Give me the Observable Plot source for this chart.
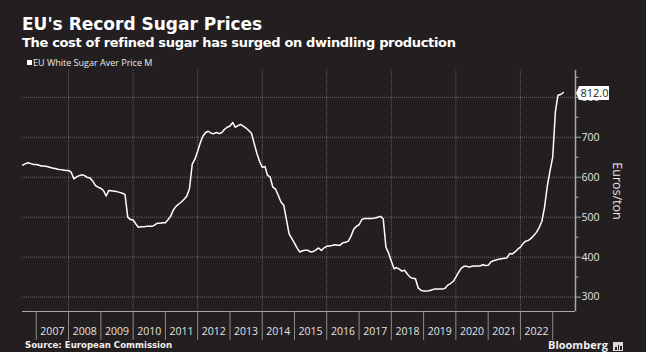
<!DOCTYPE html>
<html><head><meta charset="utf-8">
<script src="https://cdn.jsdelivr.net/npm/d3@7"></script>
<script src="https://cdn.jsdelivr.net/npm/@observablehq/plot@0.6"></script>
<style>
html,body{margin:0;padding:0;background:#231f20;}
#wrap{position:relative;width:646px;height:352px;overflow:hidden;background:#231f20;}
.t{position:absolute;white-space:nowrap;color:#fff;}
#title{left:22px;top:16px;font:bold 17px/17px "DejaVu Sans";}
#subtitle{left:22px;top:35.5px;font:bold 13px/13px "DejaVu Sans";letter-spacing:-0.33px;}
#sw{position:absolute;left:27px;top:60px;width:5px;height:5px;background:#fff;}
#legend{left:33px;top:58px;font:9px/9px "Open Sans";color:#e8e8e8;}
#source{left:25px;top:340.7px;font:bold 8.6px/8.6px "DejaVu Sans";color:#f0f0f0;}
#bbg{left:548px;top:339.2px;font:bold 11px/11px "Open Sans";color:#f0f0f0;}
#icon{position:absolute;left:613px;top:342px;width:10px;height:9px;background:#d8d8d8;}
#icon i{position:absolute;bottom:1px;width:1.5px;background:#231f20;}
#chart{position:absolute;left:0;top:60px;}
</style></head>
<body>
<div id="wrap">
  <div class="t" id="title">EU's Record Sugar Prices</div>
  <div class="t" id="subtitle">The cost of refined sugar has surged on dwindling production</div>
  <div id="sw"></div>
  <div class="t" id="legend">EU White Sugar Aver Price M</div>
  <div id="chart"></div>
  <div class="t" id="source">Source: European Commission</div>
  <div class="t" id="bbg">Bloomberg</div>
  <div id="icon"><i style="left:2px;height:3px"></i><i style="left:4.5px;height:5px"></i><i style="left:7px;height:4px"></i></div>
</div>
<script>
// Monthly EU white sugar average price (EUR/ton); 2006 starts in August, 2023 ends in May
const p2006 = [630, 634, 636, 634, 632];
const p2007 = [632, 630, 628, 628, 627, 625, 623, 622, 620, 619, 618, 617];
const p2008 = [617, 612, 596, 601, 604, 606, 604, 599, 598, 590, 579, 575];
const p2009 = [572, 566, 553, 567, 566, 565, 564, 562, 560, 557, 500, 494];
const p2010 = [493, 483, 475, 476, 476, 477, 477, 477, 480, 485, 485, 486];
const p2011 = [486, 494, 502, 518, 527, 533, 538, 545, 553, 572, 633, 645];
const p2012 = [665, 687, 703, 712, 715, 710, 709, 712, 709, 712, 720, 725];
const p2013 = [728, 737, 725, 729, 732, 728, 723, 717, 710, 685, 660, 640];
const p2014 = [625, 627, 605, 600, 575, 570, 555, 538, 530, 495, 458, 447];
const p2015 = [435, 422, 413, 416, 417, 417, 413, 414, 418, 423, 417, 423];
const p2016 = [427, 428, 429, 431, 430, 430, 436, 437, 440, 452, 470, 477];
const p2017 = [481, 494, 497, 497, 497, 497, 498, 500, 502, 496, 425, 410];
const p2018 = [390, 371, 374, 370, 365, 367, 358, 350, 347, 346, 323, 317];
const p2019 = [315, 315, 316, 318, 320, 320, 320, 320, 322, 330, 334, 339];
const p2020 = [350, 362, 372, 377, 377, 375, 377, 378, 378, 378, 381, 379];
const p2021 = [380, 388, 391, 393, 395, 396, 397, 398, 409, 408, 413, 420];
const p2022 = [425, 434, 440, 442, 447, 454, 462, 474, 490, 525, 578, 615];
const p2023 = [650, 765, 805, 807, 812];

const priceYears = [2006, 2007, 2008, 2009, 2010, 2011, 2012, 2013, 2014, 2015, 2016, 2017, 2018, 2019, 2020, 2021, 2022, 2023];
const priceRows = [p2006, p2007, p2008, p2009, p2010, p2011, p2012, p2013, p2014, p2015, p2016, p2017, p2018, p2019, p2020, p2021, p2022, p2023];

const yearLabels = [2007, 2008, 2009, 2010, 2011, 2012, 2013, 2014, 2015, 2016, 2017, 2018, 2019, 2020, 2021, 2022];
const yearDividers = [2007, 2008, 2009, 2010, 2011, 2012, 2013, 2014, 2015, 2016, 2017, 2018, 2019, 2020, 2021, 2022, 2023];
const gridYears = [2008, 2010, 2012, 2014, 2016, 2018, 2020, 2022];
const yMajor = [300, 400, 500, 600, 700, 800];
const yMinor = [350, 450, 550, 650, 750, 850];
const xDomain = [new Date(Date.UTC(2006, 6, 29)), new Date(Date.UTC(2023, 8, 16))];
const yDomain = [264, 867];
const yLabel = "Euros/ton";

const data = [];
priceYears.forEach((yr, i) => {
  const row = priceRows[i];
  const start = i === 0 ? 12 - row.length : 0;
  row.forEach((v, k) => data.push({date: new Date(Date.UTC(yr, start + k, 1)), value: v}));
});
const last = data[data.length - 1];

const chart = Plot.plot({
  width: 646, height: 285,
  marginTop: 10, marginBottom: 34, marginLeft: 22, marginRight: 71,
  style: {background: "transparent", color: "#e6e6e6", fontFamily: "Open Sans", fontSize: "10.5px", overflow: "visible"},
  x: {type: "utc", domain: xDomain, label: null},
  y: {domain: yDomain, label: null},
  marks: [
    Plot.gridX(gridYears.map(y => new Date(Date.UTC(y, 0, 1))), {stroke: "#9a9a9a", strokeOpacity: 0.55, strokeDasharray: "1,1"}),
    Plot.gridY(yMajor, {stroke: "#9a9a9a", strokeOpacity: 0.55, strokeDasharray: "1,1"}),
    Plot.ruleY([yDomain[0]], {stroke: "#a8a8a8", strokeWidth: 1}),
    Plot.ruleX([xDomain[1]], {stroke: "#a8a8a8", strokeWidth: 1.5}),
    Plot.axisX(yearDividers.map(y => new Date(Date.UTC(y, 0, 1))), {anchor: "bottom", tickSize: 29, tickFormat: () => "", stroke: "#8c8c8c"}),
    Plot.axisX(yearLabels.map(y => new Date(Date.UTC(y, 6, 2))), {anchor: "bottom", tickSize: 0, tickPadding: 16, tickFormat: d => String(d.getUTCFullYear()), fill: "#e2e2e2", fontSize: 10.5}),
    Plot.axisY(yMinor, {anchor: "right", tickSize: 2.5, tickFormat: () => "", stroke: "#a8a8a8"}),
    Plot.axisY(yMajor, {anchor: "right", tickSize: 5, tickPadding: 1, stroke: "#a8a8a8", fill: "#e2e2e2", fontSize: 10.5}),
    Plot.text([yLabel], {frameAnchor: "right", dx: 41, rotate: 90, textAnchor: "middle", fill: "#e6e6e6", fontSize: 12.5}),
    Plot.line(data, {x: "date", y: "value", stroke: "#ffffff", strokeWidth: 1.5})
  ]
});
document.getElementById("chart").append(chart);

// value flag on the right axis
const sx = chart.scale("x"), sy = chart.scale("y");
const x0 = sx.range[1], yy = sy.apply(last.value) + 1;
const svg = d3.select(chart);
const g = svg.append("g");
g.append("path")
  .attr("d", `M${x0 + 1},${yy} L${x0 + 4},${yy - 7} L${x0 + 34},${yy - 7} L${x0 + 34},${yy + 7} L${x0 + 4},${yy + 7} Z`)
  .attr("fill", "#ffffff");
g.append("text")
  .attr("x", x0 + 19.5).attr("y", yy)
  .attr("text-anchor", "middle").attr("dominant-baseline", "central")
  .attr("fill", "#231f20").attr("font-family", "Open Sans").attr("font-size", "11px")
  .text(last.value.toFixed(1));
</script>
</body></html>
